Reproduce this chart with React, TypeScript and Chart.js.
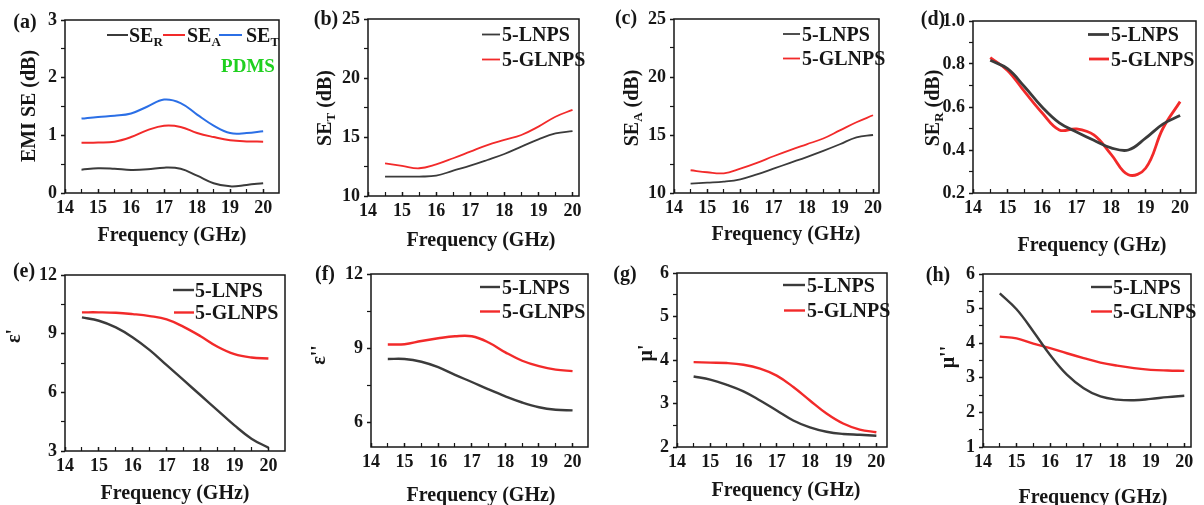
import React, { useEffect, useRef } from 'react';
import { Chart, registerables } from 'chart.js';
Chart.register(...registerables);

// ---------------- data ----------------
const FREQ = [14.5, 15, 15.5, 16, 16.5, 17, 17.5, 18, 18.5, 19, 19.5, 20];
const X_MAJOR = [14, 15, 16, 17, 18, 19, 20];

// (a) PDMS
const A_SER = [0.405, 0.43, 0.42, 0.4, 0.41, 0.44, 0.42, 0.3, 0.17, 0.115, 0.14, 0.17];
const A_SEA = [0.87, 0.875, 0.89, 0.97, 1.09, 1.165, 1.145, 1.04, 0.97, 0.915, 0.895, 0.89];
const A_SET = [1.29, 1.32, 1.34, 1.38, 1.5, 1.62, 1.56, 1.36, 1.17, 1.04, 1.04, 1.07];
// (b) SE_T
const B_LNPS = [11.64, 11.64, 11.65, 11.72, 12.15, 12.57, 13.05, 13.56, 14.18, 14.8, 15.3, 15.5];
const B_GLNPS = [12.77, 12.55, 12.35, 12.68, 13.2, 13.76, 14.32, 14.75, 15.17, 15.88, 16.72, 17.3];
// (c) SE_A
const C_LNPS = [10.81, 10.89, 10.98, 11.18, 11.6, 12.1, 12.6, 13.1, 13.63, 14.2, 14.8, 15.0];
const C_GLNPS = [11.96, 11.79, 11.7, 12.1, 12.6, 13.17, 13.7, 14.2, 14.7, 15.4, 16.1, 16.7];
// (d) SE_R
const D_LNPS = [0.817, 0.778, 0.693, 0.6, 0.526, 0.484, 0.445, 0.41, 0.4, 0.455, 0.52, 0.56];
const D_GLNPS = [0.83, 0.77, 0.67, 0.573, 0.493, 0.498, 0.47, 0.38, 0.285, 0.315, 0.5, 0.625];
// (e) eps'
const E_LNPS = [9.83, 9.66, 9.32, 8.81, 8.16, 7.39, 6.62, 5.85, 5.08, 4.31, 3.63, 3.17];
const E_GLNPS = [10.09, 10.09, 10.07, 10.0, 9.9, 9.73, 9.35, 8.87, 8.33, 7.95, 7.78, 7.73];
// (f) eps''
const F_LNPS = [8.56, 8.56, 8.45, 8.23, 7.92, 7.63, 7.33, 7.05, 6.8, 6.61, 6.51, 6.48];
const F_GLNPS = [9.15, 9.16, 9.29, 9.4, 9.48, 9.48, 9.23, 8.83, 8.49, 8.27, 8.13, 8.07];
// (g) mu'
const G_LNPS = [3.62, 3.55, 3.43, 3.28, 3.07, 2.84, 2.61, 2.45, 2.35, 2.3, 2.28, 2.26];
const G_GLNPS = [3.95, 3.94, 3.93, 3.89, 3.8, 3.64, 3.38, 3.07, 2.77, 2.54, 2.4, 2.34];
// (h) mu''
const H_LNPS = [5.44, 4.98, 4.34, 3.66, 3.09, 2.7, 2.46, 2.37, 2.35, 2.39, 2.44, 2.48];
const H_GLNPS = [4.19, 4.14, 3.99, 3.86, 3.71, 3.57, 3.44, 3.35, 3.28, 3.23, 3.21, 3.2];

// y tick labels
const Y_A = [0, 1, 2, 3];
const Y_SE = [10, 15, 20, 25];
const Y_D = [0.2, 0.4, 0.6, 0.8, 1.0];
const Y_E = [3, 6, 9, 12];
const Y_F = [6, 9, 12];
const Y_G = [2, 3, 4, 5, 6];
const Y_H = [1, 2, 3, 4, 5, 6];

// ---------------- styles ----------------
const SERIF = '"Liberation Serif", "Times New Roman", Times, serif';
const INK = '#161616';
const C_BLACK = '#3b3b3b';
const C_RED = '#f22a2a';
const C_BLUE = '#2b6fe6';
const C_GREEN = '#1fd01f';

type Part = { t: string; sub?: boolean };

function drawRich(ctx: CanvasRenderingContext2D, parts: Part[], x: number, y: number, size: number, rot: number, align: 'center' | 'left', color: string) {
  ctx.save();
  ctx.translate(x, y);
  ctx.rotate(rot);
  const subSize = Math.round(size * 0.65);
  const fontOf = (p: Part) => `bold ${p.sub ? subSize : size}px ${SERIF}`;
  let total = 0;
  const widths = parts.map((p) => {
    ctx.font = fontOf(p);
    const w = ctx.measureText(p.t).width;
    total += w;
    return w;
  });
  let cx = align === 'center' ? -total / 2 : 0;
  ctx.fillStyle = color;
  ctx.textAlign = 'left';
  ctx.textBaseline = 'alphabetic';
  const base = size * 0.34;
  parts.forEach((p, i) => {
    ctx.font = fontOf(p);
    ctx.fillText(p.t, cx, p.sub ? base + size * 0.22 : base);
    cx += widths[i];
  });
  ctx.restore();
}

type Legend = { x1: number; x2: number; tx: number; y: number };
type Series = { label: Part[]; data: number[]; color: string };
type Panel = {
  tag: string;
  box: [number, number, number, number];
  area: [number, number, number, number];
  xMax: number;
  yMin: number;
  yMax: number;
  yMajor: number[];
  yDec: number;
  series: Series[];
  lw: number;
  yTitle: Part[];
  yTitlePos: [number, number];
  xTitlePos: [number, number];
  tagPos: [number, number];
  legend: Legend[];
  note?: { t: string; x: number; y: number };
};

const LNPS: Part[] = [{ t: '5-LNPS' }];
const GLNPS: Part[] = [{ t: '5-GLNPS' }];

const PANELS: Panel[] = [
  {
    tag: 'a', box: [0, 0, 300, 262], area: [65, 20, 279, 193], xMax: 20.48,
    yMin: 0, yMax: 3, yMajor: Y_A, yDec: 0, lw: 2,
    series: [
      { label: [{ t: 'SE' }, { t: 'R', sub: true }], data: A_SER, color: C_BLACK },
      { label: [{ t: 'SE' }, { t: 'A', sub: true }], data: A_SEA, color: C_RED },
      { label: [{ t: 'SE' }, { t: 'T', sub: true }], data: A_SET, color: C_BLUE },
    ],
    yTitle: [{ t: 'EMI SE (dB)' }], yTitlePos: [28.5, 106], xTitlePos: [172, 234], tagPos: [25, 21],
    legend: [
      { x1: 107, x2: 128, tx: 129, y: 35 },
      { x1: 163, x2: 185, tx: 187, y: 35 },
      { x1: 219, x2: 242, tx: 246, y: 35 },
    ],
    note: { t: 'PDMS', x: 248, y: 66 },
  },
  {
    tag: 'b', box: [300, 0, 300, 262], area: [368, 19, 579, 196], xMax: 20.19,
    yMin: 10, yMax: 25, yMajor: Y_SE, yDec: 0, lw: 1.8,
    series: [
      { label: LNPS, data: B_LNPS, color: C_BLACK },
      { label: GLNPS, data: B_GLNPS, color: C_RED },
    ],
    yTitle: [{ t: 'SE' }, { t: 'T', sub: true }, { t: ' (dB)' }], yTitlePos: [324, 108], xTitlePos: [481, 239], tagPos: [326, 18],
    legend: [
      { x1: 482, x2: 500, tx: 502, y: 34.5 },
      { x1: 482, x2: 500, tx: 502, y: 59.5 },
    ],
  },
  {
    tag: 'c', box: [600, 0, 300, 262], area: [674, 19, 879, 193], xMax: 20.18,
    yMin: 10, yMax: 25, yMajor: Y_SE, yDec: 0, lw: 1.8,
    series: [
      { label: LNPS, data: C_LNPS, color: C_BLACK },
      { label: GLNPS, data: C_GLNPS, color: C_RED },
    ],
    yTitle: [{ t: 'SE' }, { t: 'A', sub: true }, { t: ' (dB)' }], yTitlePos: [631, 108], xTitlePos: [786, 233], tagPos: [626, 17],
    legend: [
      { x1: 783, x2: 800, tx: 802, y: 34 },
      { x1: 783, x2: 800, tx: 802, y: 58.5 },
    ],
  },
  {
    tag: 'd', box: [900, 0, 304, 262], area: [973, 21, 1196, 193], xMax: 20.46,
    yMin: 0.2, yMax: 1.0, yMajor: Y_D, yDec: 1, lw: 2.8,
    series: [
      { label: LNPS, data: D_LNPS, color: C_BLACK },
      { label: GLNPS, data: D_GLNPS, color: C_RED },
    ],
    yTitle: [{ t: 'SE' }, { t: 'R', sub: true }, { t: ' (dB)' }], yTitlePos: [932, 108], xTitlePos: [1092, 244], tagPos: [933, 18],
    legend: [
      { x1: 1088, x2: 1109, tx: 1111, y: 34.5 },
      { x1: 1089, x2: 1109, tx: 1111, y: 59 },
    ],
  },
  {
    tag: 'e', box: [0, 250, 300, 255], area: [65, 275, 285, 451], xMax: 20.49,
    yMin: 3, yMax: 12, yMajor: Y_E, yDec: 0, lw: 2.4,
    series: [
      { label: LNPS, data: E_LNPS, color: C_BLACK },
      { label: GLNPS, data: E_GLNPS, color: C_RED },
    ],
    yTitle: [{ t: "ε'" }], yTitlePos: [13, 336], xTitlePos: [175, 492], tagPos: [24, 270],
    legend: [
      { x1: 173, x2: 194, tx: 195, y: 290 },
      { x1: 174, x2: 194, tx: 195, y: 312.5 },
    ],
  },
  {
    tag: 'f', box: [300, 250, 300, 255], area: [371, 274, 588, 447], xMax: 20.46,
    yMin: 5, yMax: 12, yMajor: Y_F, yDec: 0, lw: 2.4,
    series: [
      { label: LNPS, data: F_LNPS, color: C_BLACK },
      { label: GLNPS, data: F_GLNPS, color: C_RED },
    ],
    yTitle: [{ t: "ε''" }], yTitlePos: [318, 355], xTitlePos: [481, 494], tagPos: [325, 273],
    legend: [
      { x1: 480, x2: 500, tx: 502, y: 287 },
      { x1: 480, x2: 500, tx: 502, y: 311.5 },
    ],
  },
  {
    tag: 'g', box: [600, 250, 300, 255], area: [677, 273, 887, 447], xMax: 20.32,
    yMin: 2, yMax: 6, yMajor: Y_G, yDec: 0, lw: 2.4,
    series: [
      { label: LNPS, data: G_LNPS, color: C_BLACK },
      { label: GLNPS, data: G_GLNPS, color: C_RED },
    ],
    yTitle: [{ t: "μ'" }], yTitlePos: [645, 353], xTitlePos: [786, 489], tagPos: [625, 273],
    legend: [
      { x1: 783, x2: 805, tx: 807, y: 285 },
      { x1: 784, x2: 805, tx: 807, y: 310.5 },
    ],
  },
  {
    tag: 'h', box: [900, 250, 304, 255], area: [983, 274, 1191, 447], xMax: 20.2,
    yMin: 1, yMax: 6, yMajor: Y_H, yDec: 0, lw: 2.4,
    series: [
      { label: LNPS, data: H_LNPS, color: C_BLACK },
      { label: GLNPS, data: H_GLNPS, color: C_RED },
    ],
    yTitle: [{ t: "μ''" }], yTitlePos: [947, 357], xTitlePos: [1093, 496], tagPos: [938, 274],
    legend: [
      { x1: 1091, x2: 1112, tx: 1113, y: 287 },
      { x1: 1091, x2: 1112, tx: 1113, y: 311.5 },
    ],
  },
];

const near = (a: number, b: number) => Math.abs(a - b) < 1e-6;

function makeChart(canvas: HTMLCanvasElement, p: Panel) {
  const [bx, by, bw, bh] = p.box;
  const [L, T, R, B] = p.area;
  const YW = 30;
  const XH = 30;
  const xMinor = X_MAJOR.map((v) => v + 0.5).filter((v) => v <= p.xMax + 1e-9);
  const xAll = [...X_MAJOR, ...xMinor].sort((a, b) => a - b);
  const ySteps: number[] = [];
  for (let i = 0; i < p.yMajor.length - 1; i++) ySteps.push((p.yMajor[i] + p.yMajor[i + 1]) / 2);
  const yAll = [...p.yMajor, ...ySteps].sort((a, b) => a - b);
  const isXMaj = (v: number) => X_MAJOR.some((m) => near(m, v));
  const isYMaj = (v: number) => p.yMajor.some((m) => near(m, v));

  const deco = {
    id: 'deco_' + p.tag,
    afterDatasetsDraw(chart: any) {
      const ctx = chart.ctx as CanvasRenderingContext2D;
      const a = chart.chartArea;
      ctx.save();
      ctx.strokeStyle = INK;
      ctx.lineWidth = 1.5;
      ctx.strokeRect(a.left, a.top, a.right - a.left, a.bottom - a.top);
      ctx.restore();
    },
    afterDraw(chart: any) {
      const ctx = chart.ctx as CanvasRenderingContext2D;
      const px = (x: number) => x - bx;
      const py = (y: number) => y - by;
      drawRich(ctx, [{ t: `(${p.tag})` }], px(p.tagPos[0]), py(p.tagPos[1]), 20, 0, 'center', INK);
      drawRich(ctx, p.yTitle, px(p.yTitlePos[0]), py(p.yTitlePos[1]), 20, -Math.PI / 2, 'center', INK);
      drawRich(ctx, [{ t: 'Frequency (GHz)' }], px(p.xTitlePos[0]), py(p.xTitlePos[1]), 20, 0, 'center', INK);
      p.series.forEach((s, i) => {
        const lg = p.legend[i];
        ctx.save();
        ctx.strokeStyle = s.color;
        ctx.lineWidth = p.lw;
        ctx.beginPath();
        ctx.moveTo(px(lg.x1), py(lg.y));
        ctx.lineTo(px(lg.x2), py(lg.y));
        ctx.stroke();
        ctx.restore();
        drawRich(ctx, s.label, px(lg.tx), py(lg.y), 20, 0, 'left', INK);
      });
      if (p.note) drawRich(ctx, [{ t: p.note.t }], px(p.note.x), py(p.note.y), 19, 0, 'center', C_GREEN);
    },
  };

  const tickFont = { family: SERIF, size: 18, weight: 'bold' as const };

  return new Chart(canvas, {
    type: 'line',
    data: {
      datasets: p.series.map((s) => ({
        label: s.label.map((q) => q.t).join(''),
        data: FREQ.map((f, i) => ({ x: f, y: s.data[i] })),
        borderColor: s.color,
        backgroundColor: s.color,
        borderWidth: p.lw,
        pointRadius: 0,
        tension: 0.4,
        fill: false,
      })),
    },
    options: {
      responsive: false,
      animation: false,
      devicePixelRatio: 1,
      events: [],
      layout: {
        autoPadding: false,
        padding: { left: L - bx - YW, top: T - by, right: bx + bw - R, bottom: by + bh - B - XH },
      },
      plugins: { legend: { display: false }, tooltip: { enabled: false }, title: { display: false } },
      scales: {
        x: {
          type: 'linear',
          min: 14,
          max: p.xMax,
          afterFit: (s: any) => { s.height = XH; },
          afterBuildTicks: (s: any) => { s.ticks = xAll.map((v) => ({ value: v })); },
          border: { display: false },
          grid: {
            drawOnChartArea: false,
            drawTicks: true,
            tickLength: -4,
            tickColor: INK,
            tickWidth: (c: any) => (c.tick && isXMaj(c.tick.value) ? 1.5 : 1.2),
          },
          ticks: {
            autoSkip: false,
            maxRotation: 0,
            padding: 9,
            color: INK,
            font: tickFont,
            callback: (v: any) => (isXMaj(Number(v)) ? String(Math.round(Number(v))) : ''),
          },
        },
        y: {
          type: 'linear',
          min: p.yMin,
          max: p.yMax,
          afterFit: (s: any) => { s.width = YW; },
          afterBuildTicks: (s: any) => {
            s.ticks = yAll.filter((v) => v >= p.yMin - 1e-9 && v <= p.yMax + 1e-9).map((v) => ({ value: v }));
          },
          border: { display: false },
          grid: {
            drawOnChartArea: false,
            drawTicks: true,
            tickLength: 4,
            tickColor: INK,
            tickWidth: (c: any) => (c.tick && isYMaj(c.tick.value) ? 1.5 : 1.2),
          },
          ticks: {
            autoSkip: false,
            padding: 4,
            color: INK,
            font: tickFont,
            callback: (v: any) => (isYMaj(Number(v)) ? Number(v).toFixed(p.yDec) : ''),
          },
        },
      },
    } as any,
    plugins: [deco],
  });
}

function PanelCanvas({ p }: { p: Panel }) {
  const ref = useRef<HTMLCanvasElement>(null);
  useEffect(() => {
    const ch = makeChart(ref.current as HTMLCanvasElement, p);
    return () => ch.destroy();
  }, [p]);
  return (
    <canvas
      ref={ref}
      width={p.box[2]}
      height={p.box[3]}
      style={{ position: 'absolute', left: p.box[0], top: p.box[1], width: p.box[2], height: p.box[3] }}
    />
  );
}

export default function App() {
  return (
    <div style={{ position: 'absolute', left: 0, top: 0, width: 1204, height: 505, background: '#ffffff', overflow: 'hidden' }}>
      {PANELS.map((p) => (
        <PanelCanvas key={p.tag} p={p} />
      ))}
    </div>
  );
}
